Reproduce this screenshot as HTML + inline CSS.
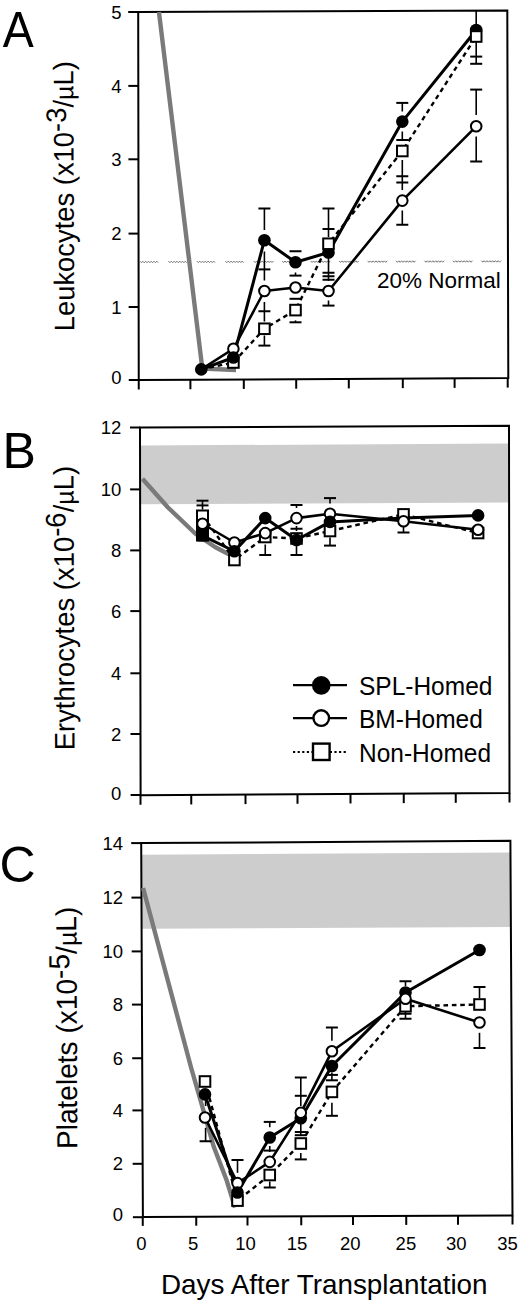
<!DOCTYPE html><html><head><meta charset="utf-8"><style>html,body{margin:0;padding:0;background:#fff;}svg{display:block;}text{font-family:"Liberation Sans", sans-serif;fill:#000;}</style></head><body>
<svg width="520" height="1305" viewBox="0 0 520 1305">
<rect width="520" height="1305" fill="#fff"/>
<path d="M138.2 11.9 L507.3 10.4 L508.3 378.1 L138.75 380 Z" fill="none" stroke="#000" stroke-width="2" stroke-linejoin="miter"/>
<line x1="128.20" y1="12" x2="138.20" y2="12" stroke="#000" stroke-width="2"/>
<text x="121.5" y="18.6" font-size="18.5" text-anchor="end" >5</text>
<line x1="128.31" y1="85.9" x2="138.31" y2="85.9" stroke="#000" stroke-width="2"/>
<text x="121.5" y="92.5" font-size="18.5" text-anchor="end" >4</text>
<line x1="128.42" y1="159.3" x2="138.42" y2="159.3" stroke="#000" stroke-width="2"/>
<text x="121.5" y="165.9" font-size="18.5" text-anchor="end" >3</text>
<line x1="128.53" y1="233.6" x2="138.53" y2="233.6" stroke="#000" stroke-width="2"/>
<text x="121.5" y="240.2" font-size="18.5" text-anchor="end" >2</text>
<line x1="128.64" y1="307" x2="138.64" y2="307" stroke="#000" stroke-width="2"/>
<text x="121.5" y="313.6" font-size="18.5" text-anchor="end" >1</text>
<line x1="128.75" y1="380" x2="138.75" y2="380" stroke="#000" stroke-width="2"/>
<text x="121.5" y="384.0" font-size="18.5" text-anchor="end" >0</text>
<line x1="138.75" y1="380.00" x2="138.75" y2="389.50" stroke="#000" stroke-width="2"/>
<line x1="190.4" y1="379.73" x2="190.4" y2="389.23" stroke="#000" stroke-width="2"/>
<line x1="243.8" y1="379.46" x2="243.8" y2="388.96" stroke="#000" stroke-width="2"/>
<line x1="296.2" y1="379.19" x2="296.2" y2="388.69" stroke="#000" stroke-width="2"/>
<line x1="348.8" y1="378.92" x2="348.8" y2="388.42" stroke="#000" stroke-width="2"/>
<line x1="402.8" y1="378.64" x2="402.8" y2="388.14" stroke="#000" stroke-width="2"/>
<line x1="454.6" y1="378.38" x2="454.6" y2="387.88" stroke="#000" stroke-width="2"/>
<line x1="507.7" y1="378.10" x2="507.7" y2="387.60" stroke="#000" stroke-width="2"/>
<path d="M140.0,261.25 L141.4,262.75 L142.8,261.25 L144.2,262.74 L145.6,261.24 L147.0,262.74 L148.4,261.24 L149.8,262.73 L151.2,261.23 L152.6,262.73 L154.0,261.23 L155.4,262.72 L156.8,261.22 L158.2,262.72 M168.4,261.20 L169.8,262.70 L171.2,261.20 L172.7,262.70 L174.1,261.19 L175.5,262.69 L176.9,261.19 L178.3,262.69 L179.7,261.19 L181.1,262.68 L182.5,261.18 L183.9,262.68 L185.3,261.18 L186.7,262.67 M196.9,261.16 L198.3,262.65 L199.7,261.15 L201.1,262.65 L202.5,261.15 L203.9,262.65 L205.3,261.14 L206.7,262.64 L208.1,261.14 L209.5,262.64 L210.9,261.13 L212.3,262.63 L213.7,261.13 L215.1,262.63 M225.3,261.11 L226.8,262.61 L228.2,261.11 L229.6,262.60 L231.0,261.10 L232.4,262.60 L233.8,261.10 L235.2,262.59 L236.6,261.09 L238.0,262.59 L239.4,261.09 L240.8,262.58 L242.2,261.08 L243.6,262.58 M253.8,261.06 L255.2,262.56 L256.6,261.06 L258.0,262.56 L259.4,261.05 L260.8,262.55 L262.2,261.05 L263.6,262.55 L265.0,261.05 L266.4,262.54 L267.8,261.04 L269.2,262.54 L270.6,261.04 L272.0,262.53 L273.4,261.03 M282.2,261.02 L283.6,262.51 L285.0,261.01 L286.4,262.51 L287.8,261.01 L289.2,262.51 L290.6,261.00 L292.0,262.50 L293.4,261.00 L294.8,262.50 L296.2,260.99 L297.6,262.49 L299.0,260.99 L300.4,262.49 L301.8,260.98 M310.7,260.97 L312.1,262.47 L313.5,260.97 L314.9,262.46 L316.3,260.96 L317.7,262.46 L319.1,260.96 L320.5,262.45 L321.9,260.95 L323.3,262.45 L324.7,260.95 L326.1,262.44 L327.5,260.94 L328.9,262.44 L330.3,260.94 M339.1,260.92 L340.5,262.42 L341.9,260.92 L343.3,262.42 L344.7,260.91 L346.1,262.41 L347.5,260.91 L348.9,262.41 L350.3,260.91 L351.7,262.40 L353.1,260.90 L354.5,262.40 L355.9,260.90 L357.3,262.39 L358.7,260.89 M367.6,260.88 L369.0,262.37 L370.4,260.87 L371.8,262.37 L373.2,260.87 L374.6,262.37 L376.0,260.86 L377.4,262.36 L378.8,260.86 L380.2,262.36 L381.6,260.85 L383.0,262.35 L384.4,260.85 L385.8,262.35 L387.2,260.84 M396.1,260.83 L397.4,262.33 L398.8,260.83 L400.2,262.32 L401.6,260.82 L403.0,262.32 L404.4,260.82 L405.8,262.31 L407.2,260.81 L408.6,262.31 L410.0,260.81 L411.4,262.31 L412.8,260.80 L414.2,262.30 L415.6,260.80 M424.5,260.78 L425.9,262.28 L427.3,260.78 L428.7,262.28 L430.1,260.77 L431.5,262.27 L432.9,260.77 L434.3,262.27 L435.7,260.77 L437.1,262.26 L438.5,260.76 L439.9,262.26 L441.3,260.76 L442.7,262.25 L444.1,260.75 M452.9,260.74 L454.3,262.23 L455.7,260.73 L457.1,262.23 L458.5,260.73 L459.9,262.23 L461.3,260.72 L462.7,262.22 L464.1,260.72 L465.5,262.22 L466.9,260.71 L468.3,262.21 L469.7,260.71 L471.1,262.21 L472.5,260.70 M481.4,260.69 L482.8,262.19 L484.2,260.69 L485.6,262.18 L487.0,260.68 L488.4,262.18 L489.8,260.68 L491.2,262.17 L492.6,260.67 L494.0,262.17 L495.4,260.67 L496.8,262.17 L498.2,260.66 L499.6,262.16 L501.0,260.66" fill="none" stroke="#737373" stroke-width="1.0"/>
<text x="377" y="287.5" font-size="22.5" text-anchor="start" transform="translate(0,287.5) scale(1,1.0) translate(0,-287.5)">20% Normal</text>
<polyline points="158.95,12 202.3,368.5 236,370" fill="none" stroke="#7a7a7a" stroke-width="4.4" stroke-linejoin="round"/>
<line x1="264.4" y1="208.5" x2="264.4" y2="230" stroke="#000" stroke-width="1.6"/>
<line x1="264.4" y1="251.5" x2="264.4" y2="280.5" stroke="#000" stroke-width="1.6"/>
<line x1="264.4" y1="302" x2="264.4" y2="321.5" stroke="#000" stroke-width="1.6"/>
<line x1="264.4" y1="335.5" x2="264.4" y2="345.6" stroke="#000" stroke-width="1.6"/>
<line x1="258.4" y1="208.5" x2="270.4" y2="208.5" stroke="#000" stroke-width="2"/>
<line x1="258.4" y1="269.4" x2="270.4" y2="269.4" stroke="#000" stroke-width="2"/>
<line x1="258.4" y1="311.25" x2="270.4" y2="311.25" stroke="#000" stroke-width="2"/>
<line x1="258.4" y1="345.6" x2="270.4" y2="345.6" stroke="#000" stroke-width="2"/>
<line x1="295.5" y1="272.5" x2="295.5" y2="275.6" stroke="#000" stroke-width="1.6"/>
<line x1="295.5" y1="320.4" x2="295.5" y2="322.3" stroke="#000" stroke-width="1.6"/>
<line x1="289.5" y1="251.25" x2="301.5" y2="251.25" stroke="#000" stroke-width="2"/>
<line x1="289.5" y1="275.6" x2="301.5" y2="275.6" stroke="#000" stroke-width="2"/>
<line x1="289.5" y1="298.8" x2="301.5" y2="298.8" stroke="#000" stroke-width="2"/>
<line x1="289.5" y1="322.3" x2="301.5" y2="322.3" stroke="#000" stroke-width="2"/>
<line x1="328.5" y1="208.5" x2="328.5" y2="237" stroke="#000" stroke-width="1.6"/>
<line x1="328.5" y1="256" x2="328.5" y2="281" stroke="#000" stroke-width="1.6"/>
<line x1="328.5" y1="300.5" x2="328.5" y2="305.6" stroke="#000" stroke-width="1.6"/>
<line x1="322.5" y1="208.5" x2="334.5" y2="208.5" stroke="#000" stroke-width="2"/>
<line x1="322.5" y1="229" x2="334.5" y2="229" stroke="#000" stroke-width="2"/>
<line x1="322.5" y1="272.75" x2="334.5" y2="272.75" stroke="#000" stroke-width="2"/>
<line x1="322.5" y1="276.25" x2="334.5" y2="276.25" stroke="#000" stroke-width="2"/>
<line x1="322.5" y1="279.75" x2="334.5" y2="279.75" stroke="#000" stroke-width="2"/>
<line x1="322.5" y1="305.6" x2="334.5" y2="305.6" stroke="#000" stroke-width="2"/>
<line x1="402.3" y1="102.9" x2="402.3" y2="111.5" stroke="#000" stroke-width="1.6"/>
<line x1="402.3" y1="131.5" x2="402.3" y2="140" stroke="#000" stroke-width="1.6"/>
<line x1="402.3" y1="160" x2="402.3" y2="190" stroke="#000" stroke-width="1.6"/>
<line x1="402.3" y1="210.5" x2="402.3" y2="224.75" stroke="#000" stroke-width="1.6"/>
<line x1="396.3" y1="102.9" x2="408.3" y2="102.9" stroke="#000" stroke-width="2"/>
<line x1="396.3" y1="140" x2="408.3" y2="140" stroke="#000" stroke-width="2"/>
<line x1="396.3" y1="176.25" x2="408.3" y2="176.25" stroke="#000" stroke-width="2"/>
<line x1="396.3" y1="182.5" x2="408.3" y2="182.5" stroke="#000" stroke-width="2"/>
<line x1="396.3" y1="224.75" x2="408.3" y2="224.75" stroke="#000" stroke-width="2"/>
<line x1="476.2" y1="10.4" x2="476.2" y2="25" stroke="#000" stroke-width="1.6"/>
<line x1="476.2" y1="42" x2="476.2" y2="63.8" stroke="#000" stroke-width="1.6"/>
<line x1="476.2" y1="89.6" x2="476.2" y2="115" stroke="#000" stroke-width="1.6"/>
<line x1="476.2" y1="136.6" x2="476.2" y2="161.5" stroke="#000" stroke-width="1.6"/>
<line x1="470.2" y1="56.6" x2="482.2" y2="56.6" stroke="#000" stroke-width="2"/>
<line x1="470.2" y1="63.8" x2="482.2" y2="63.8" stroke="#000" stroke-width="2"/>
<line x1="470.2" y1="89.6" x2="482.2" y2="89.6" stroke="#000" stroke-width="2"/>
<line x1="470.2" y1="161.5" x2="482.2" y2="161.5" stroke="#000" stroke-width="2"/>
<polyline points="201.25,369.4 233.4,362.5 264.4,328.75 295.5,310.1 328.5,243.75 402.3,151 476.2,36.5" fill="none" stroke="#000" stroke-width="2.4" stroke-linejoin="round" stroke-dasharray="4.6 3.8"/>
<polyline points="201.25,369.4 233.4,348.75 264.4,291 295.5,287.5 328.5,291 402.3,200.6 476.2,126.3" fill="none" stroke="#000" stroke-width="2.6" stroke-linejoin="round"/>
<polyline points="201.25,369.4 233.4,357.5 264.4,240.25 295.5,262.2 328.5,252.5 402.3,121.6 476.2,30" fill="none" stroke="#000" stroke-width="3.0" stroke-linejoin="round"/>
<circle cx="201.25" cy="369.4" r="6.3" fill="#000"/>
<rect x="228.1" y="357.2" width="10.6" height="10.6" fill="#fff" stroke="#000" stroke-width="2"/>
<circle cx="233.4" cy="348.75" r="5.3" fill="#fff" stroke="#000" stroke-width="2"/>
<circle cx="233.4" cy="357.5" r="6.3" fill="#000"/>
<circle cx="264.4" cy="240.25" r="6.3" fill="#000"/>
<circle cx="264.4" cy="291" r="5.3" fill="#fff" stroke="#000" stroke-width="2"/>
<rect x="259.09999999999997" y="323.45" width="10.6" height="10.6" fill="#fff" stroke="#000" stroke-width="2"/>
<circle cx="295.5" cy="262.2" r="6.3" fill="#000"/>
<circle cx="295.5" cy="287.5" r="5.3" fill="#fff" stroke="#000" stroke-width="2"/>
<rect x="290.2" y="304.8" width="10.6" height="10.6" fill="#fff" stroke="#000" stroke-width="2"/>
<circle cx="328.5" cy="252.5" r="6.3" fill="#000"/>
<rect x="323.2" y="238.45" width="10.6" height="10.6" fill="#fff" stroke="#000" stroke-width="2"/>
<circle cx="328.5" cy="291" r="5.3" fill="#fff" stroke="#000" stroke-width="2"/>
<circle cx="402.3" cy="121.6" r="6.3" fill="#000"/>
<circle cx="402.3" cy="200.6" r="5.3" fill="#fff" stroke="#000" stroke-width="2"/>
<rect x="397.0" y="145.7" width="10.6" height="10.6" fill="#fff" stroke="#000" stroke-width="2"/>
<circle cx="476.2" cy="126.3" r="5.3" fill="#fff" stroke="#000" stroke-width="2"/>
<circle cx="476.2" cy="30" r="6.3" fill="#000"/>
<rect x="470.9" y="31.2" width="10.6" height="10.6" fill="#fff" stroke="#000" stroke-width="2"/>
<polygon points="141,445.5 508.5,443.5 508.5,502.4 141,504.2" fill="#cdcdcd"/>
<path d="M140 427.5 L509 425.8 L509.5 793 L140.6 795.25 Z" fill="none" stroke="#000" stroke-width="2" stroke-linejoin="miter"/>
<line x1="130.00" y1="427.5" x2="140.00" y2="427.5" stroke="#000" stroke-width="2"/>
<text x="121.3" y="434.1" font-size="18.5" text-anchor="end" >12</text>
<line x1="130.10" y1="489.4" x2="140.10" y2="489.4" stroke="#000" stroke-width="2"/>
<text x="121.3" y="496.0" font-size="18.5" text-anchor="end" >10</text>
<line x1="130.20" y1="550.4" x2="140.20" y2="550.4" stroke="#000" stroke-width="2"/>
<text x="121.3" y="557.0" font-size="18.5" text-anchor="end" >8</text>
<line x1="130.30" y1="611.1" x2="140.30" y2="611.1" stroke="#000" stroke-width="2"/>
<text x="121.3" y="617.7" font-size="18.5" text-anchor="end" >6</text>
<line x1="130.40" y1="673.3" x2="140.40" y2="673.3" stroke="#000" stroke-width="2"/>
<text x="121.3" y="679.9" font-size="18.5" text-anchor="end" >4</text>
<line x1="130.50" y1="734" x2="140.50" y2="734" stroke="#000" stroke-width="2"/>
<text x="121.3" y="740.6" font-size="18.5" text-anchor="end" >2</text>
<line x1="130.60" y1="795" x2="140.60" y2="795" stroke="#000" stroke-width="2"/>
<text x="121.3" y="800.2" font-size="18.5" text-anchor="end" >0</text>
<line x1="140.5" y1="795.25" x2="140.5" y2="804.75" stroke="#000" stroke-width="2"/>
<line x1="191.25" y1="794.94" x2="191.25" y2="804.44" stroke="#000" stroke-width="2"/>
<line x1="245.5" y1="794.61" x2="245.5" y2="804.11" stroke="#000" stroke-width="2"/>
<line x1="297.5" y1="794.29" x2="297.5" y2="803.79" stroke="#000" stroke-width="2"/>
<line x1="350.5" y1="793.97" x2="350.5" y2="803.47" stroke="#000" stroke-width="2"/>
<line x1="403.75" y1="793.64" x2="403.75" y2="803.14" stroke="#000" stroke-width="2"/>
<line x1="455.75" y1="793.33" x2="455.75" y2="802.83" stroke="#000" stroke-width="2"/>
<line x1="509.5" y1="793.00" x2="509.5" y2="802.50" stroke="#000" stroke-width="2"/>
<polyline points="142.4,478.75 168,507.5 195.5,533.75 215,547 236,558" fill="none" stroke="#7a7a7a" stroke-width="4.4" stroke-linejoin="round"/>
<line x1="202.5" y1="500.7" x2="202.5" y2="509.5" stroke="#000" stroke-width="1.6"/>
<line x1="196.5" y1="500.7" x2="208.5" y2="500.7" stroke="#000" stroke-width="2"/>
<line x1="196.5" y1="505.4" x2="208.5" y2="505.4" stroke="#000" stroke-width="2"/>
<line x1="265.25" y1="544.5" x2="265.25" y2="555" stroke="#000" stroke-width="1.6"/>
<line x1="259.25" y1="555" x2="271.25" y2="555" stroke="#000" stroke-width="2"/>
<line x1="296.5" y1="505" x2="296.5" y2="508" stroke="#000" stroke-width="1.6"/>
<line x1="296.5" y1="526" x2="296.5" y2="531" stroke="#000" stroke-width="1.6"/>
<line x1="296.5" y1="546" x2="296.5" y2="555" stroke="#000" stroke-width="1.6"/>
<line x1="290.5" y1="505" x2="302.5" y2="505" stroke="#000" stroke-width="2"/>
<line x1="290.5" y1="528.75" x2="302.5" y2="528.75" stroke="#000" stroke-width="2"/>
<line x1="290.5" y1="555" x2="302.5" y2="555" stroke="#000" stroke-width="2"/>
<line x1="330" y1="498.1" x2="330" y2="503.5" stroke="#000" stroke-width="1.6"/>
<line x1="330" y1="537.5" x2="330" y2="545.6" stroke="#000" stroke-width="1.6"/>
<line x1="324.0" y1="498.1" x2="336.0" y2="498.1" stroke="#000" stroke-width="2"/>
<line x1="324.0" y1="545.6" x2="336.0" y2="545.6" stroke="#000" stroke-width="2"/>
<line x1="403.5" y1="527" x2="403.5" y2="532.5" stroke="#000" stroke-width="1.6"/>
<line x1="397.5" y1="532.5" x2="409.5" y2="532.5" stroke="#000" stroke-width="2"/>
<polyline points="202.5,515.5 234.4,560 265.25,537 296.5,538.5 330,531 403.5,514.4 478.1,533" fill="none" stroke="#000" stroke-width="2.4" stroke-linejoin="round" stroke-dasharray="4.6 3.8"/>
<polyline points="202.5,523.75 234.4,542.5 265.25,533.1 296.5,518.1 330,513.75 403.5,521.25 478.1,529.75" fill="none" stroke="#000" stroke-width="2.6" stroke-linejoin="round"/>
<polyline points="202.5,535.6 234.4,551.25 265.25,518.1 296.5,540 330,521.9 403.5,518 478.1,515.4" fill="none" stroke="#000" stroke-width="3.0" stroke-linejoin="round"/>
<rect x="229.1" y="554.7" width="10.6" height="10.6" fill="#fff" stroke="#000" stroke-width="2"/>
<circle cx="234.4" cy="542.5" r="5.3" fill="#fff" stroke="#000" stroke-width="2"/>
<circle cx="234.4" cy="551.25" r="6.3" fill="#000"/>
<circle cx="265.25" cy="518.1" r="6.3" fill="#000"/>
<rect x="259.95" y="531.7" width="10.6" height="10.6" fill="#fff" stroke="#000" stroke-width="2"/>
<circle cx="265.25" cy="533.1" r="5.3" fill="#fff" stroke="#000" stroke-width="2"/>
<circle cx="296.5" cy="518.1" r="5.3" fill="#fff" stroke="#000" stroke-width="2"/>
<rect x="291.2" y="533.2" width="10.6" height="10.6" fill="#fff" stroke="#000" stroke-width="2"/>
<circle cx="296.5" cy="540" r="6.3" fill="#000"/>
<rect x="324.7" y="525.7" width="10.6" height="10.6" fill="#fff" stroke="#000" stroke-width="2"/>
<circle cx="330" cy="513.75" r="5.3" fill="#fff" stroke="#000" stroke-width="2"/>
<circle cx="330" cy="521.9" r="6.3" fill="#000"/>
<circle cx="403.5" cy="518" r="6.3" fill="#000"/>
<rect x="398.2" y="509.09999999999997" width="10.6" height="10.6" fill="#fff" stroke="#000" stroke-width="2"/>
<circle cx="403.5" cy="521.25" r="5.3" fill="#fff" stroke="#000" stroke-width="2"/>
<circle cx="478.1" cy="515.4" r="6.3" fill="#000"/>
<rect x="472.8" y="527.7" width="10.6" height="10.6" fill="#fff" stroke="#000" stroke-width="2"/>
<circle cx="478.1" cy="529.75" r="5.3" fill="#fff" stroke="#000" stroke-width="2"/>
<rect x="197" y="510.5" width="11" height="30" fill="#fff" stroke="#000" stroke-width="2"/>
<rect x="196" y="528" width="13" height="13.4" rx="3" fill="#000"/>
<circle cx="202.5" cy="523.75" r="5.3" fill="#fff" stroke="#000" stroke-width="2"/>
<line x1="293" y1="685.2" x2="347" y2="685.2" stroke="#000" stroke-width="2.2"/>
<circle cx="321.25" cy="685.4" r="9.3" fill="#000"/>
<line x1="293" y1="718.1" x2="347" y2="718.1" stroke="#000" stroke-width="2.2"/>
<circle cx="321.25" cy="718.1" r="7.8" fill="#fff" stroke="#000" stroke-width="2.4"/>
<line x1="293" y1="752.1" x2="347" y2="752.1" stroke="#000" stroke-width="2" stroke-dasharray="2.2 2.4"/>
<rect x="313" y="743.6" width="16.6" height="16.4" fill="#fff" stroke="#000" stroke-width="2.4"/>
<text x="359" y="694.8" font-size="24.5" text-anchor="start" transform="translate(0,694.8) scale(1,1.065) translate(0,-694.8)">SPL-Homed</text>
<text x="359" y="727.6" font-size="24.5" text-anchor="start" transform="translate(0,727.6) scale(1,1.065) translate(0,-727.6)">BM-Homed</text>
<text x="359" y="761.6" font-size="24.5" text-anchor="start" transform="translate(0,761.6) scale(1,1.065) translate(0,-761.6)">Non-Homed</text>
<polygon points="142,854.8 510.5,852.5 510.5,927.0 142,928.8" fill="#cdcdcd"/>
<path d="M141.2 843.1 L510.4 840.8 L512.5 1215.5 L142.9 1216.9 Z" fill="none" stroke="#000" stroke-width="2" stroke-linejoin="miter"/>
<line x1="131.20" y1="843.1" x2="141.20" y2="843.1" stroke="#000" stroke-width="2"/>
<text x="123.0" y="849.7" font-size="18.5" text-anchor="end" >14</text>
<line x1="131.45" y1="897.6" x2="141.45" y2="897.6" stroke="#000" stroke-width="2"/>
<text x="123.0" y="904.2" font-size="18.5" text-anchor="end" >12</text>
<line x1="131.69" y1="951.4" x2="141.69" y2="951.4" stroke="#000" stroke-width="2"/>
<text x="123.0" y="958.0" font-size="18.5" text-anchor="end" >10</text>
<line x1="131.93" y1="1004.6" x2="141.93" y2="1004.6" stroke="#000" stroke-width="2"/>
<text x="123.0" y="1011.2" font-size="18.5" text-anchor="end" >8</text>
<line x1="132.18" y1="1058.25" x2="142.18" y2="1058.25" stroke="#000" stroke-width="2"/>
<text x="123.0" y="1064.85" font-size="18.5" text-anchor="end" >6</text>
<line x1="132.42" y1="1110.4" x2="142.42" y2="1110.4" stroke="#000" stroke-width="2"/>
<text x="123.0" y="1117.0" font-size="18.5" text-anchor="end" >4</text>
<line x1="132.66" y1="1163.8" x2="142.66" y2="1163.8" stroke="#000" stroke-width="2"/>
<text x="123.0" y="1170.3999999999999" font-size="18.5" text-anchor="end" >2</text>
<line x1="132.90" y1="1217.2" x2="142.90" y2="1217.2" stroke="#000" stroke-width="2"/>
<text x="123.0" y="1221.2" font-size="18.5" text-anchor="end" >0</text>
<line x1="142.75" y1="1216.90" x2="142.75" y2="1225.90" stroke="#000" stroke-width="2"/>
<line x1="196.25" y1="1216.70" x2="196.25" y2="1225.70" stroke="#000" stroke-width="2"/>
<line x1="247.5" y1="1216.50" x2="247.5" y2="1225.50" stroke="#000" stroke-width="2"/>
<line x1="301.25" y1="1216.30" x2="301.25" y2="1225.30" stroke="#000" stroke-width="2"/>
<line x1="353" y1="1216.10" x2="353" y2="1225.10" stroke="#000" stroke-width="2"/>
<line x1="406.25" y1="1215.90" x2="406.25" y2="1224.90" stroke="#000" stroke-width="2"/>
<line x1="458" y1="1215.71" x2="458" y2="1224.71" stroke="#000" stroke-width="2"/>
<line x1="512.5" y1="1215.50" x2="512.5" y2="1224.50" stroke="#000" stroke-width="2"/>
<text x="141.5" y="1249.5" font-size="18.5" text-anchor="middle" >0</text>
<text x="193.1" y="1249.5" font-size="18.5" text-anchor="middle" >5</text>
<text x="245.6" y="1249.5" font-size="18.5" text-anchor="middle" >10</text>
<text x="297.1" y="1249.5" font-size="18.5" text-anchor="middle" >15</text>
<text x="350.25" y="1249.5" font-size="18.5" text-anchor="middle" >20</text>
<text x="405.9" y="1249.5" font-size="18.5" text-anchor="middle" >25</text>
<text x="456.25" y="1249.5" font-size="18.5" text-anchor="middle" >30</text>
<text x="507.5" y="1249.5" font-size="18.5" text-anchor="middle" >35</text>
<polyline points="143.1,888 191.2,1068 201,1102 213.5,1146 226.8,1180.8 235,1207.5" fill="none" stroke="#7a7a7a" stroke-width="4.4" stroke-linejoin="round"/>
<line x1="205.6" y1="1100" x2="205.6" y2="1106" stroke="#000" stroke-width="1.6"/>
<line x1="205.6" y1="1127.8" x2="205.6" y2="1141.25" stroke="#000" stroke-width="1.6"/>
<line x1="199.6" y1="1141.25" x2="211.6" y2="1141.25" stroke="#000" stroke-width="2"/>
<line x1="237.5" y1="1160" x2="237.5" y2="1172.8" stroke="#000" stroke-width="1.6"/>
<line x1="231.5" y1="1160" x2="243.5" y2="1160" stroke="#000" stroke-width="2"/>
<line x1="269.75" y1="1121.9" x2="269.75" y2="1127.2" stroke="#000" stroke-width="1.6"/>
<line x1="269.75" y1="1146" x2="269.75" y2="1152" stroke="#000" stroke-width="1.6"/>
<line x1="269.75" y1="1181.5" x2="269.75" y2="1187.5" stroke="#000" stroke-width="1.6"/>
<line x1="263.75" y1="1121.9" x2="275.75" y2="1121.9" stroke="#000" stroke-width="2"/>
<line x1="263.75" y1="1150.6" x2="275.75" y2="1150.6" stroke="#000" stroke-width="2"/>
<line x1="263.75" y1="1187.5" x2="275.75" y2="1187.5" stroke="#000" stroke-width="2"/>
<line x1="300.8" y1="1077.5" x2="300.8" y2="1106" stroke="#000" stroke-width="1.6"/>
<line x1="300.8" y1="1122.6" x2="300.8" y2="1135" stroke="#000" stroke-width="1.6"/>
<line x1="300.8" y1="1153" x2="300.8" y2="1159.4" stroke="#000" stroke-width="1.6"/>
<line x1="294.8" y1="1077.5" x2="306.8" y2="1077.5" stroke="#000" stroke-width="2"/>
<line x1="294.8" y1="1095.8" x2="306.8" y2="1095.8" stroke="#000" stroke-width="2"/>
<line x1="294.8" y1="1132" x2="306.8" y2="1132" stroke="#000" stroke-width="2"/>
<line x1="294.8" y1="1135.2" x2="306.8" y2="1135.2" stroke="#000" stroke-width="2"/>
<line x1="294.8" y1="1159.4" x2="306.8" y2="1159.4" stroke="#000" stroke-width="2"/>
<line x1="331.9" y1="1027.5" x2="331.9" y2="1040.7" stroke="#000" stroke-width="1.6"/>
<line x1="331.9" y1="1072.5" x2="331.9" y2="1080.3" stroke="#000" stroke-width="1.6"/>
<line x1="331.9" y1="1102.7" x2="331.9" y2="1115.8" stroke="#000" stroke-width="1.6"/>
<line x1="325.9" y1="1027.5" x2="337.9" y2="1027.5" stroke="#000" stroke-width="2"/>
<line x1="325.9" y1="1074.9" x2="337.9" y2="1074.9" stroke="#000" stroke-width="2"/>
<line x1="325.9" y1="1080.3" x2="337.9" y2="1080.3" stroke="#000" stroke-width="2"/>
<line x1="325.9" y1="1115.8" x2="337.9" y2="1115.8" stroke="#000" stroke-width="2"/>
<line x1="405.5" y1="981.25" x2="405.5" y2="986" stroke="#000" stroke-width="1.6"/>
<line x1="405.5" y1="1011" x2="405.5" y2="1018.75" stroke="#000" stroke-width="1.6"/>
<line x1="399.5" y1="981.25" x2="411.5" y2="981.25" stroke="#000" stroke-width="2"/>
<line x1="399.5" y1="1013.75" x2="411.5" y2="1013.75" stroke="#000" stroke-width="2"/>
<line x1="399.5" y1="1018.75" x2="411.5" y2="1018.75" stroke="#000" stroke-width="2"/>
<line x1="479.5" y1="987" x2="479.5" y2="998" stroke="#000" stroke-width="1.6"/>
<line x1="479.5" y1="1032.8" x2="479.5" y2="1048" stroke="#000" stroke-width="1.6"/>
<line x1="473.5" y1="987" x2="485.5" y2="987" stroke="#000" stroke-width="2"/>
<line x1="473.5" y1="1048" x2="485.5" y2="1048" stroke="#000" stroke-width="2"/>
<polyline points="205,1081.5 237.5,1200.6 269.75,1175 300.8,1143.5 331.9,1091.9 405.5,1006.25 479.5,1004.5" fill="none" stroke="#000" stroke-width="2.4" stroke-linejoin="round" stroke-dasharray="4.6 3.8"/>
<polyline points="205,1117.5 237.5,1183.1 269.75,1161.9 300.8,1112.8 331.9,1051.3 405.5,998.75 479.5,1022.5" fill="none" stroke="#000" stroke-width="2.6" stroke-linejoin="round"/>
<polyline points="205,1094.4 237.5,1192.5 269.75,1137.5 300.8,1118.2 331.9,1066 405.5,992.5 479.5,950" fill="none" stroke="#000" stroke-width="3.0" stroke-linejoin="round"/>
<circle cx="205" cy="1117.5" r="5.3" fill="#fff" stroke="#000" stroke-width="2"/>
<rect x="199.7" y="1076.2" width="10.6" height="10.6" fill="#fff" stroke="#000" stroke-width="2"/>
<circle cx="205" cy="1094.4" r="6.3" fill="#000"/>
<rect x="232.2" y="1195.3" width="10.6" height="10.6" fill="#fff" stroke="#000" stroke-width="2"/>
<circle cx="237.5" cy="1183.1" r="5.3" fill="#fff" stroke="#000" stroke-width="2"/>
<circle cx="237.5" cy="1192.5" r="6.3" fill="#000"/>
<rect x="264.45" y="1169.7" width="10.6" height="10.6" fill="#fff" stroke="#000" stroke-width="2"/>
<circle cx="269.75" cy="1161.9" r="5.3" fill="#fff" stroke="#000" stroke-width="2"/>
<circle cx="269.75" cy="1137.5" r="6.3" fill="#000"/>
<rect x="295.5" y="1138.2" width="10.6" height="10.6" fill="#fff" stroke="#000" stroke-width="2"/>
<circle cx="300.8" cy="1118.2" r="6.3" fill="#000"/>
<circle cx="300.8" cy="1112.8" r="5.3" fill="#fff" stroke="#000" stroke-width="2"/>
<rect x="326.59999999999997" y="1086.6000000000001" width="10.6" height="10.6" fill="#fff" stroke="#000" stroke-width="2"/>
<circle cx="331.9" cy="1066" r="6.3" fill="#000"/>
<circle cx="331.9" cy="1051.3" r="5.3" fill="#fff" stroke="#000" stroke-width="2"/>
<rect x="400.2" y="1000.95" width="10.6" height="10.6" fill="#fff" stroke="#000" stroke-width="2"/>
<circle cx="405.5" cy="992.5" r="6.3" fill="#000"/>
<circle cx="405.5" cy="998.75" r="5.3" fill="#fff" stroke="#000" stroke-width="2"/>
<rect x="474.2" y="999.2" width="10.6" height="10.6" fill="#fff" stroke="#000" stroke-width="2"/>
<circle cx="479.5" cy="950" r="6.3" fill="#000"/>
<circle cx="479.5" cy="1022.5" r="5.3" fill="#fff" stroke="#000" stroke-width="2"/>
<text x="1.5" y="47.5" font-size="50" text-anchor="start" transform="translate(18.4,0) scale(0.93,1) translate(-18.4,0)">A</text>
<text x="2.5" y="468.2" font-size="50" text-anchor="start" >B</text>
<text x="-0.5" y="881.5" font-size="50" text-anchor="start" >C</text>
<text x="161" y="1293.8" font-size="27.85" text-anchor="start" >Days After Transplantation</text>
<text transform="translate(74.3,331.3) rotate(-90.25) scale(1,1.03)" font-size="27.4">Leukocytes (x10<tspan dy="-7.2">-3</tspan><tspan dy="7.2">/</tspan><tspan font-size="25">µ</tspan>L)</text>
<text transform="translate(74.6,750.3) rotate(-90.25) scale(1,1.03)" font-size="27.45">Erythrocytes (x10<tspan dy="-7.9">-6</tspan><tspan dy="7.9">/</tspan><tspan font-size="25">µ</tspan>L)</text>
<text transform="translate(77.3,1149.1) rotate(-90.25) scale(1,1.03)" font-size="28.1">Platelets (x10<tspan dy="-7.0">-5</tspan><tspan dy="7.0">/</tspan><tspan font-size="25">µ</tspan>L)</text>
</svg></body></html>
